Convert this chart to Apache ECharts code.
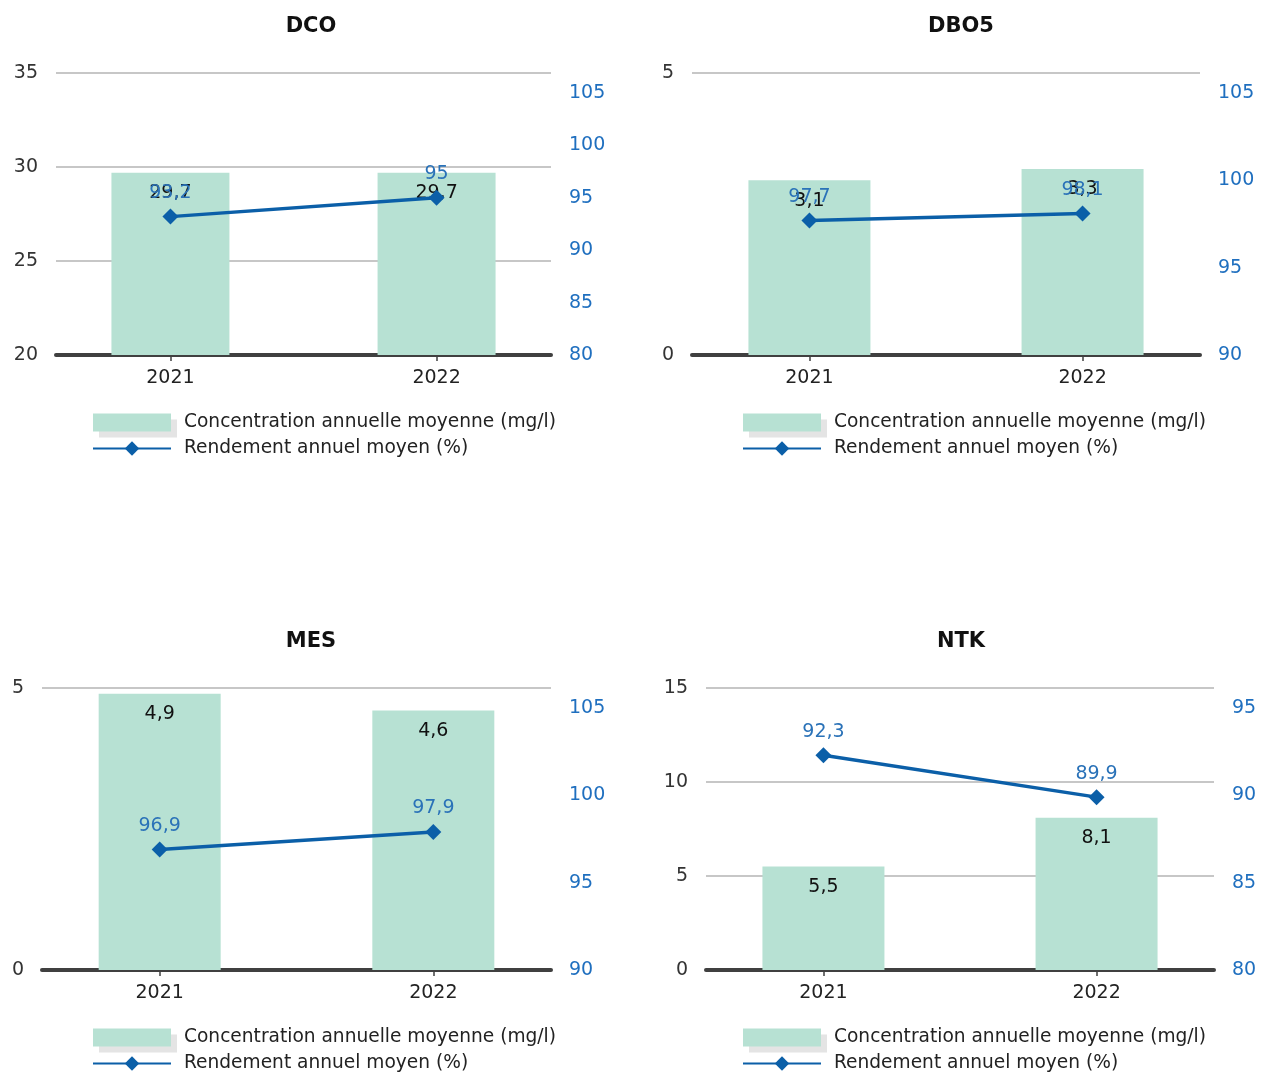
<!DOCTYPE html>
<html><head><meta charset="utf-8">
<script src="https://cdn.jsdelivr.net/npm/echarts@6/dist/echarts.min.js"></script>
<style>html,body{margin:0;padding:0;background:#fff}#c{width:1272px;height:1074px}</style>
</head><body><div id="c"></div>
<script>
// ---- data ----
const years = ['2021', '2022'];
const titles = ['DCO', 'DBO5', 'MES', 'NTK'];
const barName = 'Concentration annuelle moyenne (mg/l)';
const lineName = 'Rendement annuel moyen (%)';
const concDCO = [29.7, 29.7];
const concDBO5 = [3.1, 3.3];
const concMES = [4.9, 4.6];
const concNTK = [5.5, 8.1];
const rendDCO = [93.2, 95];
const rendDBO5 = [97.7, 98.1];
const rendMES = [96.9, 97.9];
const rendNTK = [92.3, 89.9];
const leftMin = [20, 0, 0, 0];
const leftMax = [35, 5, 5, 15];
const rightMin = [80, 90, 90, 80];
const rightMax = [106.9, 106.15, 106.15, 96.15];

const conc = [concDCO, concDBO5, concMES, concNTK];
const rend = [rendDCO, rendDBO5, rendMES, rendNTK];

// ---- layout ----
const grids = [
  {left: 56, top: 73, width: 495, height: 282},
  {left: 692, top: 73, width: 508, height: 282},
  {left: 42, top: 688, width: 509, height: 282},
  {left: 706, top: 688, width: 508, height: 282}
];
const titleX = [311, 961, 311, 961];
const titleY = [16, 16, 631, 631];
const legendPos = [[92, 413], [742, 413], [92, 1028], [742, 1028]];
const barW = [118, 122, 122, 122];

const FF = 'DejaVu Sans';
const fmt = v => String(v).replace('.', ',');
const idx = years.map((_, i) => i);

const option = {
  backgroundColor: '#fff',
  animation: false,
  title: [], grid: [], xAxis: [], yAxis: [], series: [], legend: []
};

for (let k = 0; k < 4; k++) {
  option.title.push({
    text: titles[k], left: titleX[k], top: titleY[k], textAlign: 'center', padding: 0,
    textStyle: {fontFamily: FF, fontSize: 21, fontWeight: 'bold', color: '#111'}
  });
  option.grid.push(Object.assign({containLabel: false}, grids[k]));
  option.xAxis.push({
    type: 'value', gridIndex: k, min: -0.43, max: 1.43,
    axisLine: {show: true, onZero: false, lineStyle: {color: '#404040', width: 4}},
    axisTick: {show: true, customValues: idx, length: 6, lineStyle: {color: '#404040', width: 1.5}},
    axisLabel: {customValues: idx, formatter: v => years[Math.round(v)], margin: 14,
      fontFamily: FF, fontSize: 19, color: '#222'},
    splitLine: {show: false}
  });
  option.yAxis.push({
    type: 'value', gridIndex: k, min: leftMin[k], max: leftMax[k], interval: 5,
    axisLine: {show: false}, axisTick: {show: false},
    splitLine: {show: true, lineStyle: {color: '#b5b5b5', width: 1.5}},
    axisLabel: {margin: 18, fontFamily: FF, fontSize: 19, color: '#333'}
  });
  option.yAxis.push({
    type: 'value', gridIndex: k, position: 'right', min: rightMin[k], max: rightMax[k], interval: 5,
    axisLine: {show: false}, axisTick: {show: false}, splitLine: {show: false},
    axisLabel: {margin: 18, fontFamily: FF, fontSize: 19, color: '#1f6fbf', showMaxLabel: false}
  });
  option.series.push({
    name: barName, type: 'bar', xAxisIndex: k, yAxisIndex: 2 * k, clip: true,
    barWidth: barW[k], itemStyle: {color: '#b7e1d3'},
    data: conc[k].map((v, i) => [idx[i], v]),
    label: {show: true, position: 'insideTop', distance: 11, fontFamily: FF, fontSize: 19, color: '#111',
      formatter: p => fmt(p.value[1])},
    z: 2
  });
  option.series.push({
    name: lineName, type: 'line', xAxisIndex: k, yAxisIndex: 2 * k + 1,
    data: rend[k].map((v, i) => [idx[i], v]),
    symbol: 'diamond', symbolSize: 16,
    lineStyle: {color: '#0b5fa8', width: 3.5}, itemStyle: {color: '#0b5fa8'},
    label: {show: true, position: 'top', distance: 6, fontFamily: FF, fontSize: 19, color: '#2a72b8',
      formatter: p => fmt(p.value[1])},
    z: 3
  });
  option.legend.push({
    orient: 'vertical', left: legendPos[k][0], top: legendPos[k][1], padding: 0,
    itemWidth: 78, itemHeight: 18, itemGap: 7,
    selectedMode: false,
    textStyle: {fontFamily: FF, fontSize: 18.6, color: '#222', padding: [0, 0, 0, 8]},
    data: [
      {name: barName, icon: 'rect', itemStyle: {shadowColor: '#e4e4e4', shadowOffsetX: 6, shadowOffsetY: 6, shadowBlur: 0}},
      {name: lineName}
    ]
  });
}

const chart = echarts.init(document.getElementById('c'), null, {renderer: 'canvas'});
chart.setOption(option);
</script>
</body></html>
